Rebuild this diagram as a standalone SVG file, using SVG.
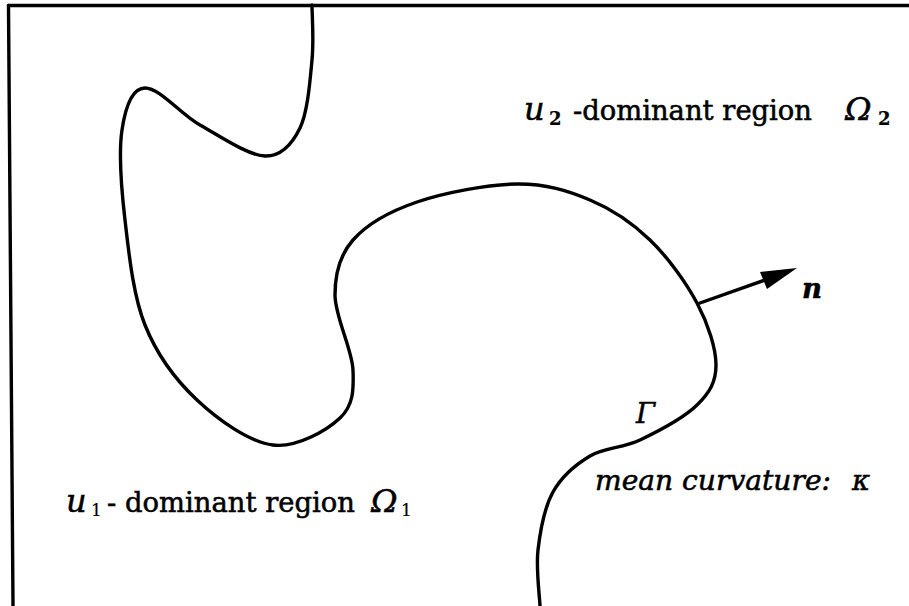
<svg xmlns="http://www.w3.org/2000/svg" width="909" height="606" viewBox="0 0 909 606">
<style>
.ln{fill:none;stroke:#000;stroke-width:3.4;stroke-linecap:round;stroke-linejoin:round}
.t{font-family:"DejaVu Serif","Liberation Serif",serif;font-size:27.5px;fill:#000;stroke:#000;stroke-width:0.55}
.it{font-style:italic}
.big{font-size:32px}
.sub{font-size:18px;font-weight:bold;stroke-width:0.2}
.sub1{font-size:17px;stroke-width:0.2}
</style>
<rect x="0" y="0" width="909" height="606" fill="#fff"/>
<g id="frame">
<line class="ln" x1="8.5" y1="5.5" x2="909" y2="5.5"/>
<line class="ln" x1="8.5" y1="5.5" x2="13" y2="606"/>
</g>
<g id="interface">
<path class="ln" d="M312,5 C312,14.2 314,39.5 312,60 C310,80.5 307.8,112 300,128 C292.2,144 281.7,156.5 265,156 C248.3,155.5 220,136.3 200,125 C180,113.7 160,88 145,88 C132,88 125.3,108 122,130 C118.7,152 121.2,187.5 125,220 C128.8,252.5 133,295 145,325 C157,355 175.7,380 197,400 C218.3,420 249.2,442 273,445 C296.8,448 326.7,430.5 340,418 C353.3,405.5 353.8,390.5 353,370 C352.2,349.5 335,316.7 335,295 C335,273.3 339.3,255.5 353,240 C366.7,224.5 389.7,211.3 417,202 C444.3,192.7 488.2,184.3 517,184 C545.8,183.7 567.8,190.7 590,200 C612.2,209.3 632.2,222.8 650,240 C667.8,257.2 686,282.2 697,303 C708,323.8 716,348 716,365 C716,382 709.7,392.5 697,405 C684.3,417.5 657.8,431.5 640,440 C622.2,448.5 604.5,447.3 590,456 C575.5,464.7 561.7,476.3 553,492 C544.3,507.7 540.2,531 538,550 C535.8,569 539.7,596.7 540,606"/>
</g>
<g id="connectors">
<line class="ln" x1="700" y1="303" x2="768" y2="279"/>
<polygon points="797,268 760,272 767,289" fill="#000"/>
</g>
<g id="label-n">
<text class="t" x="802" y="298" font-size="31" font-weight="bold" font-style="italic">n</text>
</g>
<g id="label-gamma">
<text class="t it" x="636" y="423" font-size="29">Γ</text>
</g>
<g id="label-u2">
<text class="t" y="120"><tspan class="it big" x="524">u</tspan><tspan class="sub" x="549" y="125">2</tspan><tspan x="573" y="120" textLength="239" lengthAdjust="spacingAndGlyphs">-dominant region</tspan><tspan class="it big" x="845">Ω</tspan><tspan class="sub" x="878" y="125">2</tspan></text>
</g>
<g id="label-u1">
<text class="t" y="512"><tspan class="it big" x="66">u</tspan><tspan class="sub1" x="91" y="516">1</tspan><tspan x="107" y="512" textLength="248" lengthAdjust="spacingAndGlyphs">- dominant region</tspan><tspan class="it big" x="371">Ω</tspan><tspan class="sub1" x="401" y="516">1</tspan></text>
</g>
<g id="label-kappa">
<text class="t it" y="490" font-size="28"><tspan x="595" textLength="236" lengthAdjust="spacingAndGlyphs">mean curvature:</tspan><tspan x="852">κ</tspan></text>
</g>
</svg>
